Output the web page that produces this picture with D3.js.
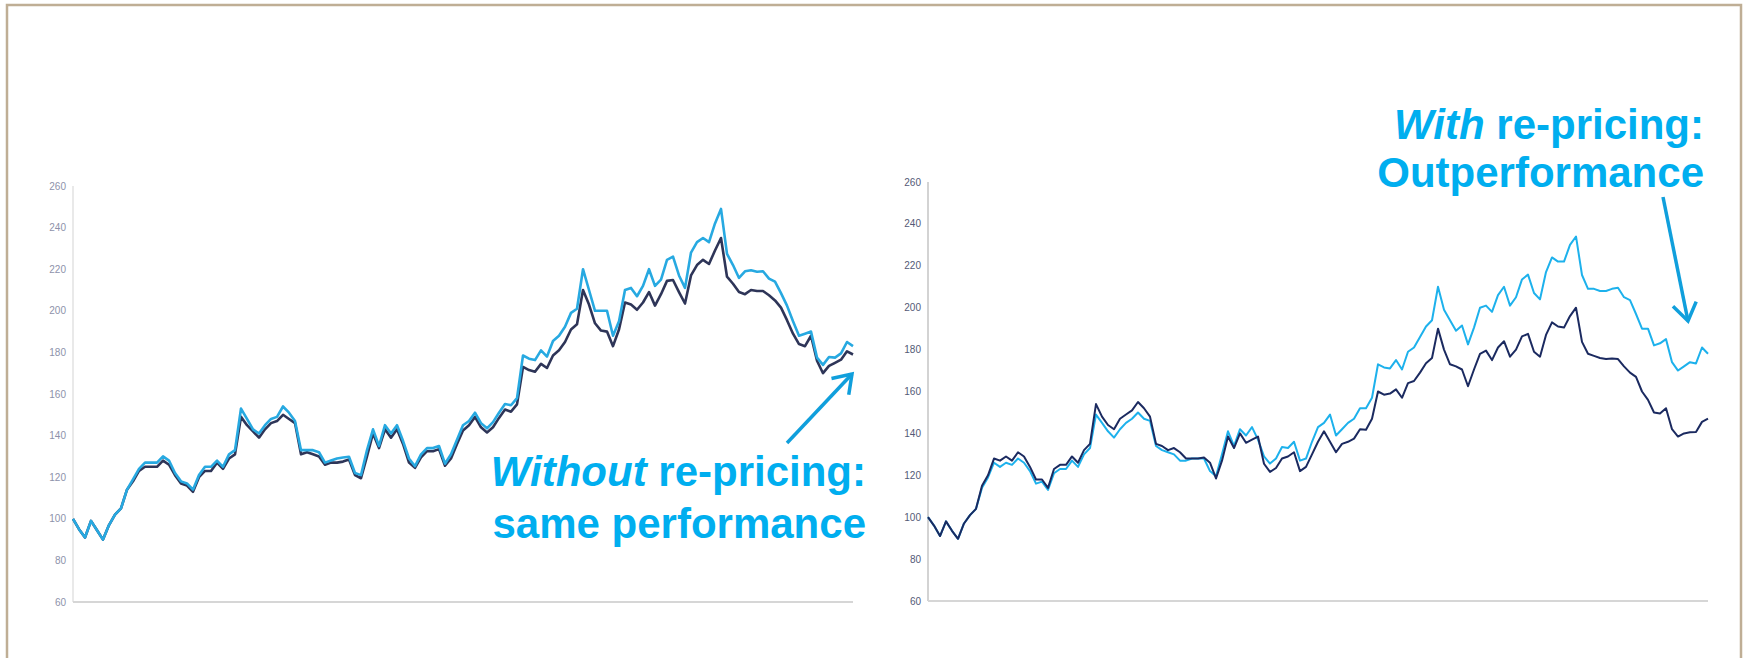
<!DOCTYPE html>
<html>
<head>
<meta charset="utf-8">
<script src="https://cdn.jsdelivr.net/npm/d3@7"></script>
<style>
  body { margin: 0; background: #fff; }
  svg { display: block; }
</style>
</head>
<body>
<script>
// weekly index values, one point every week (both panels share the same dates)
var leftNavy = [100, 95, 91, 99, 94.5, 90, 97, 102, 105, 114, 118, 123, 125, 125, 125, 128, 126, 121, 117, 116,
    113, 120, 123, 123, 127, 124, 129, 131, 149, 145, 142, 139, 143, 146, 147, 150, 148, 146, 131, 132,
    131, 130, 126, 127, 127,
    127.5, 128.5, 121, 119.5, 130, 141, 134, 143, 139, 143, 136, 127, 124.5, 129.5, 132.5, 132.5, 133.5, 125.5, 129, 136,
    142.5, 145, 149, 144, 141.5, 144, 148.5, 152.5, 151.5, 155, 173, 171.5, 170.7, 174.5, 172.5, 178.5, 181, 185, 191, 193.5,
    210, 203, 194,
    190.5, 190, 183, 191, 204, 203, 200.5, 204, 209, 202.5, 208, 214.4, 214.8, 209, 203.5, 217, 222, 224.5, 222.5, 229,
    235, 216.4, 213, 209, 208, 210, 209.5, 209.5, 207.5, 205, 201.5, 195.5, 189, 184, 183, 188, 176, 170, 173.5, 175,
    176.5, 180.5, 179];

var leftCyan = [100, 95, 91, 99, 94.5, 90, 97, 102, 105, 114, 119, 124, 127, 127, 127, 130, 128, 122, 118, 117,
    114, 121, 125, 125, 128, 125, 131, 133, 153, 148, 143, 141, 145, 148, 149, 154, 151, 147, 133, 133,
    133, 132, 127, 128, 129,
    129.5, 129.8, 122, 121, 133, 143, 135, 145, 141, 145, 137.5, 129, 125.3, 131, 134, 134, 135, 126.5, 131, 138,
    145, 147, 151, 146, 143.5, 146.5, 151, 155.2, 154.6, 158, 178.5, 177, 176.3, 181, 178, 185.5, 188, 192.3, 199, 201,
    220, 210, 200,
    200, 200, 188, 195, 210, 211, 207, 212, 220, 212, 215, 224.5, 226, 217, 211, 228, 233, 235, 233, 242,
    249, 227.4, 222, 215.8, 219, 219.5, 218.8, 219, 215.5, 214, 208.5, 202.5, 195, 188, 189, 190, 177.5, 174, 177.8, 177.5,
    179.5, 185, 183];

var rightNavy = [100, 96, 91, 98, 93.5, 89.7, 97, 101, 104, 115, 120, 128, 127, 129, 127, 131, 129, 124, 118, 118,
    114, 123, 125, 125, 129, 126, 132, 135, 154, 148, 144, 142, 147, 149, 151, 155, 152, 148, 135, 134,
    132, 133, 131, 128, 128,
    128, 128.5, 126, 118.5, 127, 138.5, 133, 140, 135.5, 137, 138.5, 125.5, 121.6, 123.5, 128, 129, 131, 122, 124, 130,
    136, 141, 136, 131, 135, 136, 137.5, 142, 141.7, 147, 160, 158.5, 159, 161, 157, 164, 165, 169, 173.5, 176,
    190, 180, 173,
    172, 170.5, 162.5, 170.5, 178, 179.5, 175, 181, 184, 176.6, 180, 186.3, 187.5, 179, 176.6, 187, 193, 191, 190.5, 196,
    200, 183.7, 178, 177, 176, 175.5, 175.8, 175.5, 172, 169, 167, 160, 156, 150, 149.5, 152, 142, 138.5, 140, 140.5,
    140.7, 145.5, 147];

var rightCyan = [100, 96, 91, 98, 93.5, 89.7, 97, 101, 104, 114, 119, 126, 124, 126, 125, 128, 126, 122, 116, 117,
    113, 121, 123, 123, 127, 124, 130, 133, 149, 145, 141, 138, 142, 145, 147, 150, 147, 146, 134, 132,
    131, 130, 127, 127, 128,
    128, 128, 122, 119.5, 130, 141, 134, 142, 139, 143, 137, 129, 125.6, 128, 133.5, 133, 136, 127, 128, 136,
    143, 145, 149, 139, 142, 145, 147, 152, 152, 157, 173, 171.5, 171, 175, 170.5, 179, 181, 186, 191, 194,
    210, 199, 194,
    189, 191.5, 182.5, 190.5, 200, 201, 198, 206, 210, 201, 205, 213.5, 215.8, 207, 204, 217, 224, 222, 222, 230,
    234, 215.6, 209, 209, 208, 208, 209, 209.5, 205, 203.6, 197, 190, 190, 182, 183, 185, 174, 170, 172, 174,
    173.4, 181, 178];

var yTicks = [60, 80, 100, 120, 140, 160, 180, 200, 220, 240, 260];

var leftNote = [{text: "Without", italic: true}, {text: " re-pricing:", italic: false}];
var leftNote2 = "same performance";
var rightNote = [{text: "With", italic: true}, {text: " re-pricing:", italic: false}];
var rightNote2 = "Outperformance";

var width = 1744,
    height = 658;

var svg = d3.select("body").append("svg")
    .attr("width", width)
    .attr("height", height);

// slide frame
svg.append("rect")
    .attr("x", 7)
    .attr("y", 5)
    .attr("width", 1734)
    .attr("height", 720)
    .attr("fill", "none")
    .attr("stroke", "#bfae95")
    .attr("stroke-width", 2.5);

function panel(opts) {
    var g = svg.append("g");

    var x = d3.scaleLinear()
        .domain([0, opts.navy.length - 1])
        .range([opts.left, opts.right]);

    var y = d3.scaleLinear()
        .domain([60, 260])
        .range([opts.bottom, opts.top]);

    // axis lines, no ticks
    g.append("line")
        .attr("x1", opts.left).attr("x2", opts.left)
        .attr("y1", opts.top).attr("y2", opts.bottom)
        .attr("stroke", opts.axisColor)
        .attr("stroke-width", 1.5);

    g.append("line")
        .attr("x1", opts.left).attr("x2", opts.right)
        .attr("y1", opts.bottom).attr("y2", opts.bottom)
        .attr("stroke", "#d6d6d6")
        .attr("stroke-width", 2);

    g.selectAll(".ylab")
        .data(yTicks)
        .enter()
        .append("text")
        .attr("class", "ylab")
        .attr("x", opts.left - 7)
        .attr("y", function (d) { return y(d); })
        .attr("dy", "0.35em")
        .attr("text-anchor", "end")
        .attr("font-family", "Liberation Sans, Arial, sans-serif")
        .attr("font-size", "10px")
        .attr("fill", opts.labelColor)
        .text(function (d) { return d; });

    var line = d3.line()
        .x(function (d, i) { return x(i); })
        .y(function (d) { return y(d); });

    opts.order.forEach(function (key) {
        g.append("path")
            .datum(opts[key])
            .attr("fill", "none")
            .attr("stroke", opts.colors[key])
            .attr("stroke-width", opts.lineWidth)
            .attr("stroke-linejoin", "round")
            .attr("d", line);
    });
}

panel({
    left: 73, right: 853, top: 186, bottom: 602,
    navy: leftNavy, cyan: leftCyan,
    colors: {navy: "#2e3558", cyan: "#27a9e1"},
    order: ["navy", "cyan"],
    lineWidth: 2.6,
    axisColor: "#e2e2e2",
    labelColor: "#8d92aa"
});

panel({
    left: 928, right: 1708, top: 182, bottom: 601,
    navy: rightNavy, cyan: rightCyan,
    colors: {navy: "#1b2a60", cyan: "#1db1ec"},
    order: ["cyan", "navy"],
    lineWidth: 2,
    axisColor: "#c4c4c4",
    labelColor: "#545a76"
});

function note(parts, second, xEnd, y1, y2) {
    var t = svg.append("text")
        .attr("x", xEnd)
        .attr("y", y1)
        .attr("text-anchor", "end")
        .attr("font-family", "Liberation Sans, Arial, sans-serif")
        .attr("font-size", "42px")
        .attr("font-weight", "bold")
        .attr("fill", "#00aeef");
    parts.forEach(function (p) {
        t.append("tspan")
            .attr("font-style", p.italic ? "italic" : "normal")
            .attr("xml:space", "preserve")
            .text(p.text);
    });
    svg.append("text")
        .attr("x", xEnd)
        .attr("y", y2)
        .attr("text-anchor", "end")
        .attr("font-family", "Liberation Sans, Arial, sans-serif")
        .attr("font-size", "42px")
        .attr("font-weight", "bold")
        .attr("fill", "#00aeef")
        .text(second);
}

function arrow(x1, y1, x2, y2) {
    var a = Math.atan2(y1 - y2, x1 - x2),
        len = 21,
        spread = 0.6;
    var head = [
        [x2 + len * Math.cos(a - spread), y2 + len * Math.sin(a - spread)],
        [x2, y2],
        [x2 + len * Math.cos(a + spread), y2 + len * Math.sin(a + spread)]
    ];
    svg.append("line")
        .attr("x1", x1).attr("y1", y1)
        .attr("x2", x2).attr("y2", y2)
        .attr("stroke", "#109fdc")
        .attr("stroke-width", 3.5);
    svg.append("path")
        .attr("d", d3.line()(head))
        .attr("fill", "none")
        .attr("stroke", "#109fdc")
        .attr("stroke-width", 3.5)
        .attr("stroke-linejoin", "miter");
}

note(leftNote, leftNote2, 866, 486, 538);
note(rightNote, rightNote2, 1704, 139, 187);

arrow(787, 443, 852, 374);
arrow(1663, 197, 1688, 321);
</script>
</body>
</html>
